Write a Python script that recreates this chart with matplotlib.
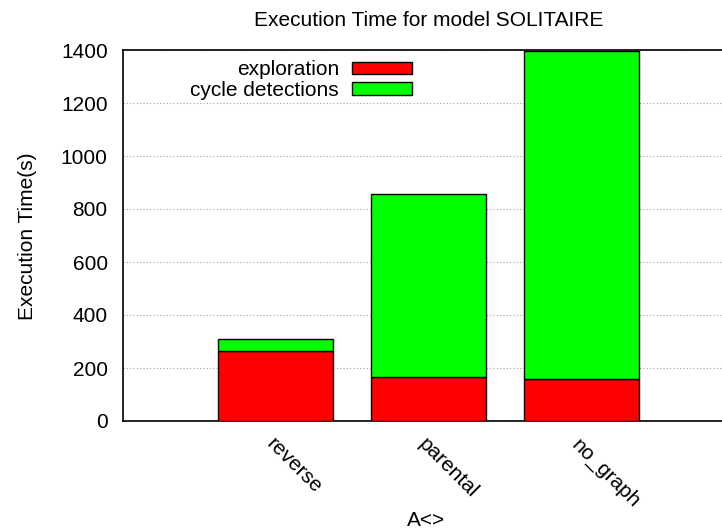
import matplotlib
matplotlib.use("Agg")
import matplotlib.pyplot as plt
import numpy as np

plt.rcParams['font.family'] = ['Liberation Sans', 'DejaVu Sans']

# data
methods = ["reverse", "parental", "no_graph"]
exploration = [265, 165, 160]
cycle_detections = [45, 690, 1236]   # stacked on top of exploration
y_ticks = [0, 200, 400, 600, 800, 1000, 1200, 1400]

fig = plt.figure(figsize=(7.22, 5.31), dpi=100)
ax = fig.add_axes([123/722, 110/531, 611/722, 371/531])

x = np.arange(len(methods))
fs = 15

ax.bar(x, exploration, width=0.75, color="#ff0000", edgecolor="black",
       linewidth=1.0, label="exploration", zorder=3)
ax.bar(x, cycle_detections, width=0.75, bottom=exploration, color="#00ff00",
       edgecolor="black", linewidth=1.0, label="cycle detections", zorder=3)

ax.set_xlim(-1, 3)
ax.set_ylim(0, 1400)
ax.set_yticks(y_ticks)
ax.set_yticklabels([str(v) for v in y_ticks], fontsize=fs)
ax.set_xticks(x)
ax.set_xticklabels(methods, fontsize=fs, rotation=-45, ha="left",
                   rotation_mode="anchor")
ax.tick_params(axis="y", length=0, pad=11)
ax.tick_params(axis="x", length=0, pad=10)

ax.grid(axis="y", color="#a0a0a0", linestyle=(0, (1, 2)), linewidth=0.8,
        zorder=0)
ax.spines["right"].set_visible(False)
for s in ["left", "bottom", "top"]:
    ax.spines[s].set_linewidth(1.2)

leg = ax.legend(loc="upper right", bbox_to_anchor=(0.473, 0.972), fontsize=fs,
                frameon=False, markerfirst=False, handlelength=2.9,
                handleheight=0.55, labelspacing=0.06, handletextpad=0.6,
                borderpad=0, borderaxespad=0)
leg._legend_box.align = "right"
for txt in leg.get_texts():
    txt.set_horizontalalignment("right")

fig.text(429/722, 1 - 20/531, "Execution Time for model SOLITAIRE",
         ha="center", va="center", fontsize=fs)
fig.text(28/722, 1 - 236/531, "Execution Time(s)", rotation=90,
         ha="center", va="center", fontsize=fs)
fig.text(426/722, 1 - 521/531, "A<>", ha="center", va="center", fontsize=fs)

fig.savefig("out.png", dpi=100)
